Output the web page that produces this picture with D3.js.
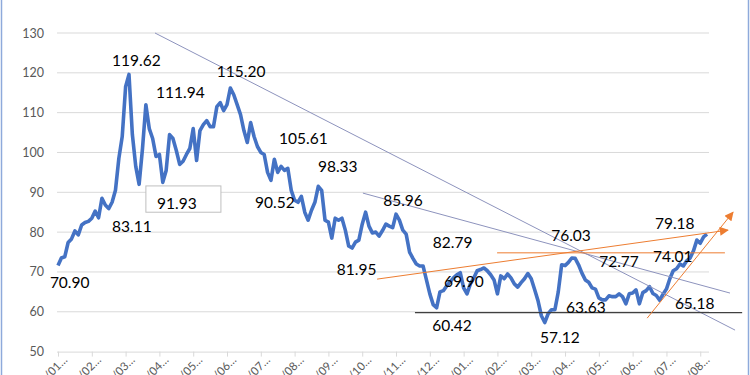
<!DOCTYPE html>
<html>
<head>
<meta charset="utf-8">
<script src="https://cdn.jsdelivr.net/npm/d3@7"></script>
<style>
  html, body { margin: 0; padding: 0; background: #fff; }
  #chart { width: 750px; height: 375px; overflow: hidden; }
</style>
</head>
<body>
<div id="chart"></div>
<script>
// Series values (10 points per tick interval)
const values = [
  71.6, 73.5, 73.8, 77.4, 78.3, 80.3, 79.3, 81.8, 82.4, 82.7,
  83.5, 85.3, 83.6, 88.5, 86.8, 85.9, 87.5, 90.5, 98.5, 104,
  116.5, 119.6, 104.5, 96.5, 92, 101, 112, 106, 103.5, 99,
  99.5, 92.5, 95.5, 104.5, 103.5, 100.5, 97, 97.8, 99.5, 101,
  106, 98, 105.5, 107, 108, 106.5, 106.5, 111.5, 112.5, 110.5,
  112, 116.2, 114.5, 112, 109.5, 105.5, 102.5, 107.5, 104, 101.5,
  100, 99.5, 95, 93, 98.3, 95, 96.5, 95.5, 96, 90.5,
  88, 87.5, 89, 85, 83, 85.5, 87.5, 91.5, 90.5, 83,
  82.5, 78.5, 83.5, 83, 83.5, 80.5, 76.5, 76, 77.5, 78,
  82, 85, 81.5, 79.8, 80, 79, 80.4, 82, 81.5, 81.1,
  84.5, 83, 80.5, 79.5, 75, 73.4, 72, 71.5, 71.5, 68,
  64.5, 61.8, 61, 65, 65.3, 66.5, 67.5, 68.5, 69.3, 69.8,
  66, 64.5, 67, 68.5, 70.3, 70.6, 71, 70.3, 69.3, 68,
  64.5, 69, 68.3, 69.5, 68.5, 67, 66.2, 67.3, 68.3, 69.6,
  68.3, 65.6, 62.8, 59, 57.3, 59.5, 60.5, 60.5, 65, 71.8,
  71.6, 72.4, 73.5, 73.4, 71.8, 69.7, 68, 67.4, 66, 65.7,
  63.5, 63, 63, 64, 63.8, 63.8, 64.5, 63.8, 62, 64.5,
  64.7, 65.5, 62, 64.8, 65.3, 66.3, 64.6, 64.1, 62.9, 64.4,
  65.7, 68.3, 70.3, 70.8, 72, 71.5, 72.8, 73.5, 75.3, 78,
  77.2, 78.8, 79.5
];

const tickLabels = ['01', '02', '03', '04', '05', '06', '07', '08', '09', '10',
  '11', '12', '01', '02', '03', '04', '05', '06', '07', '08'];
const yTicks = [50, 60, 70, 80, 90, 100, 110, 120, 130];

// Point labels typed on the chart (text, index, value of the baseline-left corner)
const noteTexts = ['70.90', '83.11', '91.93', '119.62', '111.94', '115.20', '105.61', '98.33',
  '90.52', '85.96', '81.95', '82.79', '69.90', '60.42', '57.12', '76.03', '72.77', '74.01',
  '79.18', '63.63', '65.18'];
const noteIdx = [-2.4, 16.0, 29.3, 16.0, 29.0, 47.0, 65.4, 76.9, 58.3, 96.2, 82.5, 110.9,
  114.2, 110.7, 142.6, 145.9, 160.1, 176.0, 176.6, 150.3, 182.5];
const noteVal = [65.9, 80.0, 85.8, 121.7, 113.7, 118.9, 102.1, 95.1, 86.0, 86.5, 69.2, 76.0,
  66.2, 55.1, 52.1, 77.7, 71.2, 72.5, 80.8, 59.6, 60.6];

// Drawn trend lines, in index / value units
const trendLines = [
  { kind: 'slate', i1: 28.7, v1: 130, i2: 200.3, v2: 55.4 },
  { kind: 'slate', i1: 90.2, v1: 89.8, i2: 198.8, v2: 64.7 },
  { kind: 'black', i1: 105.6, v1: 59.8, i2: 202.4, v2: 59.8 },
  { kind: 'orange', i1: 129.9, v1: 74.8, i2: 197.3, v2: 74.8 },
  { kind: 'arrow', i1: 94.4, v1: 68.2, i2: 198.2, v2: 80.5 },
  { kind: 'arrow', i1: 174.3, v1: 58.4, i2: 199.7, v2: 85.0 }
];
// Box drawn around the 91.93 label
const boxIdx = [26.0, 48.2];
const boxVal = [91.6, 85.0];

const W = 750, H = 375;
const svg = d3.select('#chart').append('svg')
  .attr('width', W).attr('height', H)
  .style('font-family', "Lato, 'Open Sans', sans-serif");

const defs = svg.append('defs');
defs.append('marker')
  .attr('id', 'arrowhead')
  .attr('viewBox', '0 0 10 10')
  .attr('refX', 9).attr('refY', 5)
  .attr('markerWidth', 10).attr('markerHeight', 9)
  .attr('markerUnits', 'userSpaceOnUse')
  .attr('orient', 'auto')
  .append('path').attr('d', 'M0,0 L10,5 L0,10 z').attr('fill', '#ed7d31');

const x = d3.scaleLinear().domain([0, values.length - 1]).range([58, 707]);
const y = d3.scaleLinear().domain([50, 130]).range([351.6, 33]);

// frame edges
svg.append('line').attr('x1', 1.5).attr('x2', 1.5).attr('y1', 0).attr('y2', H)
  .attr('stroke', '#8eaadb').attr('stroke-width', 1.5);
svg.append('line').attr('x1', 748.5).attr('x2', 748.5).attr('y1', 0).attr('y2', H)
  .attr('stroke', '#8eaadb').attr('stroke-width', 1.5);

// Grid
svg.append('g').selectAll('line')
  .data(yTicks.filter(d => d > 50)).enter().append('line')
  .attr('x1', 57).attr('x2', 709)
  .attr('y1', d => y(d)).attr('y2', d => y(d))
  .attr('stroke', '#d9d9d9').attr('stroke-width', 1);

// Y axis labels
const yAxis = svg.append('g').attr('transform', 'translate(57,0)')
  .call(d3.axisLeft(y).tickValues(yTicks).tickSize(0).tickPadding(13));
yAxis.select('.domain').remove();
yAxis.selectAll('text').attr('fill', '#595959').attr('font-size', '12.5px')
  .attr('font-family', "Lato, 'Open Sans', sans-serif");

// X axis
const tickIdx = tickLabels.map((d, i) => i * 10);
const xAxis = svg.append('g').attr('transform', `translate(0,${y(50)})`)
  .call(d3.axisBottom(x).tickValues(tickIdx).tickSize(5).tickFormat(''));
xAxis.select('.domain').attr('d', `M57,0.5H709`).attr('stroke', '#d9d9d9');
xAxis.selectAll('line').attr('stroke', '#d9d9d9');

// rotated labels run off the bottom edge, as in the original
svg.append('g').selectAll('text')
  .data(tickLabels).enter().append('text')
  .attr('transform', (d, i) => `translate(${x(i * 10) + 10},${y(50) + 9}) rotate(-45)`)
  .attr('text-anchor', 'end')
  .attr('fill', '#595959').attr('font-size', '11.5px')
  .text(d => `/${d}…`);

// Data line
const line = d3.line()
  .x((d, i) => x(i))
  .y(d => y(d));

svg.append('path')
  .datum(values)
  .attr('fill', 'none')
  .attr('stroke', '#4472c4')
  .attr('stroke-width', 3.6)
  .attr('stroke-linejoin', 'round')
  .attr('d', line);

// Trend lines
const strokeFor = { slate: '#8d93bd', black: '#404040', orange: '#ed7d31', arrow: '#ed7d31' };
svg.append('g').selectAll('line')
  .data(trendLines).enter().append('line')
  .attr('x1', d => x(d.i1)).attr('y1', d => y(d.v1))
  .attr('x2', d => x(d.i2)).attr('y2', d => y(d.v2))
  .attr('stroke', d => strokeFor[d.kind])
  .attr('stroke-width', d => d.kind === 'black' ? 1.2 : 1)
  .attr('marker-end', d => d.kind === 'arrow' ? 'url(#arrowhead)' : null);

// Label box
svg.append('rect')
  .attr('x', x(boxIdx[0])).attr('y', y(boxVal[0]))
  .attr('width', x(boxIdx[1]) - x(boxIdx[0]))
  .attr('height', y(boxVal[1]) - y(boxVal[0]))
  .attr('fill', '#fff').attr('stroke', '#bfbfbf').attr('stroke-width', 1);

// Point labels
svg.append('g').selectAll('text')
  .data(noteTexts).enter().append('text')
  .attr('x', (d, i) => x(noteIdx[i]))
  .attr('y', (d, i) => y(noteVal[i]))
  .attr('fill', '#000').attr('font-size', '15.5px')
  .text(d => d);
</script>
</body>
</html>
